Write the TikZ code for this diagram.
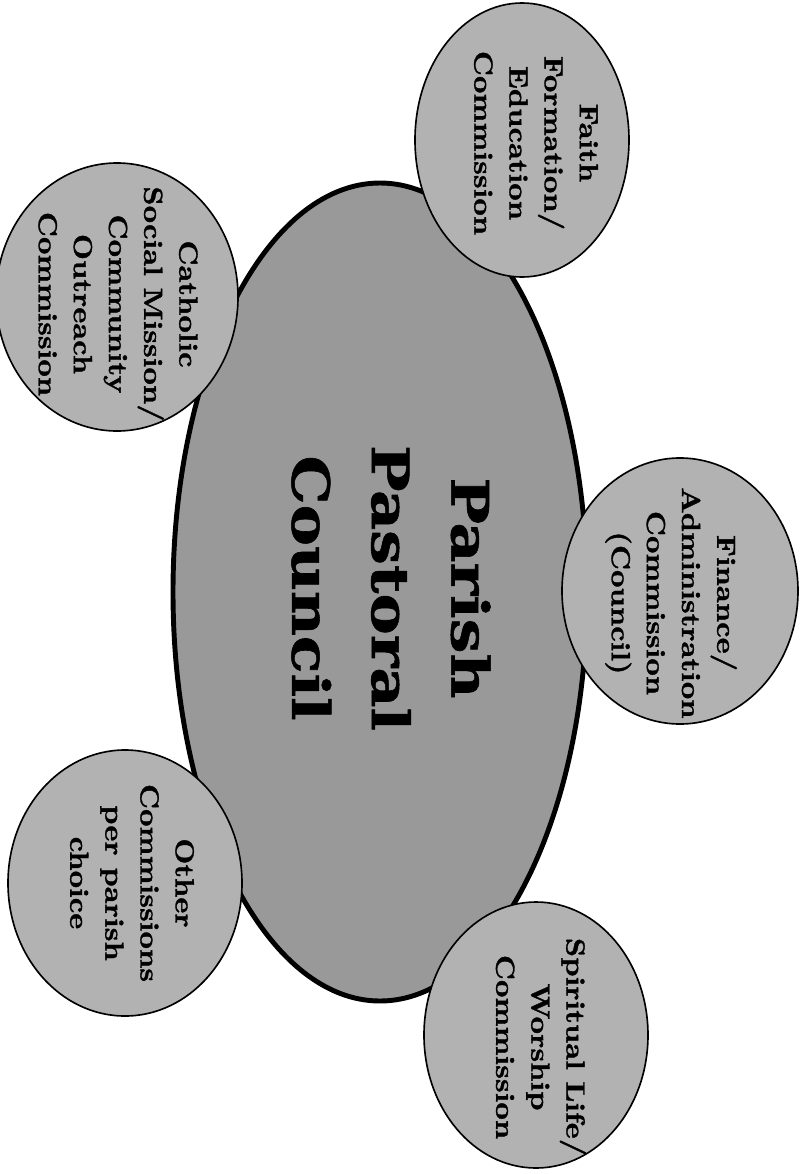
\documentclass[tikz,border=0pt]{standalone}
\usepackage{fontspec}
\usepackage{xcolor}
\usepackage{tikz}
\newfontfamily\councilfont{DejaVu Serif}[BoldFeatures={FakeBold=1}]
\newfontfamily\commfont{lmroman10-bold.otf}[FakeBold=1.2]

\begin{document}
\begin{tikzpicture}[x=0.03cm, y=-0.03cm,
    council/.style={fill=gray!80, draw=black, line width=4.2pt},
    commission/.style={fill=gray!60, draw=black, line width=1.4pt},
    commtext/.style={rotate=-90, xscale=1.15, align=center, inner sep=0pt,
        font=\fontsize{22.5}{30}\selectfont\commfont},
    counciltext/.style={rotate=-90, xscale=1.2, align=center, inner sep=0pt,
        font=\fontsize{44}{68}\selectfont\councilfont\bfseries}]
    \useasboundingbox (0,0) rectangle (801,1174);

    % parish pastoral council
    \filldraw[council] (380,592) ellipse [x radius=207, y radius=409];
    \node[counciltext] (ppc) at (391,588) {Parish\\Pastoral\\Council};

    % commissions
    \filldraw[commission] (522,140) ellipse [x radius=107, y radius=137];
    \filldraw[commission] (117,297) ellipse [x radius=121, y radius=134];
    \filldraw[commission] (680,591) ellipse [x radius=118, y radius=133];
    \filldraw[commission] (125,883) ellipse [x radius=117, y radius=133];
    \filldraw[commission] (536,1035) ellipse [x radius=112, y radius=133];

    % labels
    \node[commtext] (faith) at (536,143) {Faith\\Formation/\\Education\\Commission};
    \node[commtext] (social) at (118,304) {Catholic\\Social Mission/\\Community\\Outreach\\Commission};
    \node[commtext] (finance) at (671,603) {Finance/\\Administration\\Commission\\(Council)};
    \node[commtext] (other) at (132,883) {Other\\Commissions\\per parish\\choice};
    \node[commtext] (worship) at (541,1047) {Spiritual Life/\\Worship\\Commission};
\end{tikzpicture}
\end{document}
